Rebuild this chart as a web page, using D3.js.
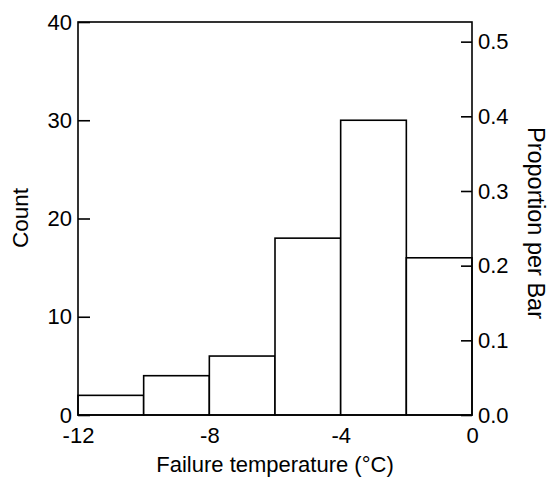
<!DOCTYPE html>
<html><head><meta charset="utf-8">
<script src="https://cdn.jsdelivr.net/npm/d3@7"></script>
<style>body{margin:0;background:#fff;} text{font-family:"Liberation Sans",Arial,sans-serif;fill:#000;}</style>
</head><body>
<svg id="c" width="548" height="478"></svg>
<script>
const binStarts = [-12, -10, -8, -6, -4, -2];
const binWidth = 2;
const counts = [2, 4, 6, 18, 30, 16];
const xTicks = [-12, -8, -4, 0];
const countTicks = [0, 10, 20, 30, 40];
const propTicks = [0, 0.1, 0.2, 0.3, 0.4, 0.5];

const svg = d3.select("#c");
const L = 78, R = 472, T = 22, B = 415;
const total = d3.sum(counts);
const x = d3.scaleLinear().domain([-12, 0]).range([L, R]);
const y = d3.scaleLinear().domain([0, 40]).range([B, T]);
const yp = d3.scaleLinear().domain([0, 40 / total]).range([B, T]);
const fs = 22;
const sw = 1.6;
const FF = "Liberation Sans, Arial, sans-serif";

// bars
svg.append("g").selectAll("rect").data(binStarts).join("rect")
  .attr("x", d => x(d)).attr("width", d => x(d + binWidth) - x(d))
  .attr("y", (d, i) => y(counts[i])).attr("height", (d, i) => y(0) - y(counts[i]))
  .attr("fill", "#fff").attr("stroke", "#000").attr("stroke-width", sw);

// frame
svg.append("rect").attr("x", L).attr("y", T).attr("width", R - L).attr("height", B - T)
  .attr("fill", "none").attr("stroke", "#000").attr("stroke-width", sw);

// left axis
const ga = svg.append("g").attr("transform", `translate(${L},0)`)
  .call(d3.axisLeft(y).tickValues(countTicks).tickSizeInner(-12).tickSizeOuter(0).tickPadding(6).tickFormat(d => String(d)));
ga.select(".domain").remove();
ga.selectAll("line").attr("stroke", "#000").attr("stroke-width", sw);
ga.selectAll("text").attr("font-size", fs).attr("font-family", FF);

// right axis
const gr = svg.append("g").attr("transform", `translate(${R},0)`)
  .call(d3.axisRight(yp).tickValues(propTicks).tickSizeInner(-11).tickSizeOuter(0).tickPadding(6).tickFormat(d => d.toFixed(1)));
gr.select(".domain").remove();
gr.selectAll("line").attr("stroke", "#000").attr("stroke-width", sw);
gr.selectAll("text").attr("font-size", fs).attr("font-family", FF);

// bottom axis (no tick marks)
const gb = svg.append("g").attr("transform", `translate(0,${B})`)
  .call(d3.axisBottom(x).tickValues(xTicks).tickSize(0).tickPadding(12).tickFormat(d => String(d)));
gb.select(".domain").remove();
gb.selectAll("text").attr("font-size", fs).attr("font-family", FF);

// titles
svg.append("text").attr("x", x(-6)).attr("y", 472).attr("text-anchor", "middle")
  .attr("font-size", fs).text("Failure temperature (\u00B0C)");
svg.append("text").attr("transform", `translate(28,218) rotate(-90)`).attr("text-anchor", "middle")
  .attr("font-size", 22.5).text("Count");
svg.append("text").attr("transform", `translate(528,223) rotate(90)`).attr("text-anchor", "middle")
  .attr("font-size", 23.5).text("Proportion per Bar");
</script>
</body></html>
